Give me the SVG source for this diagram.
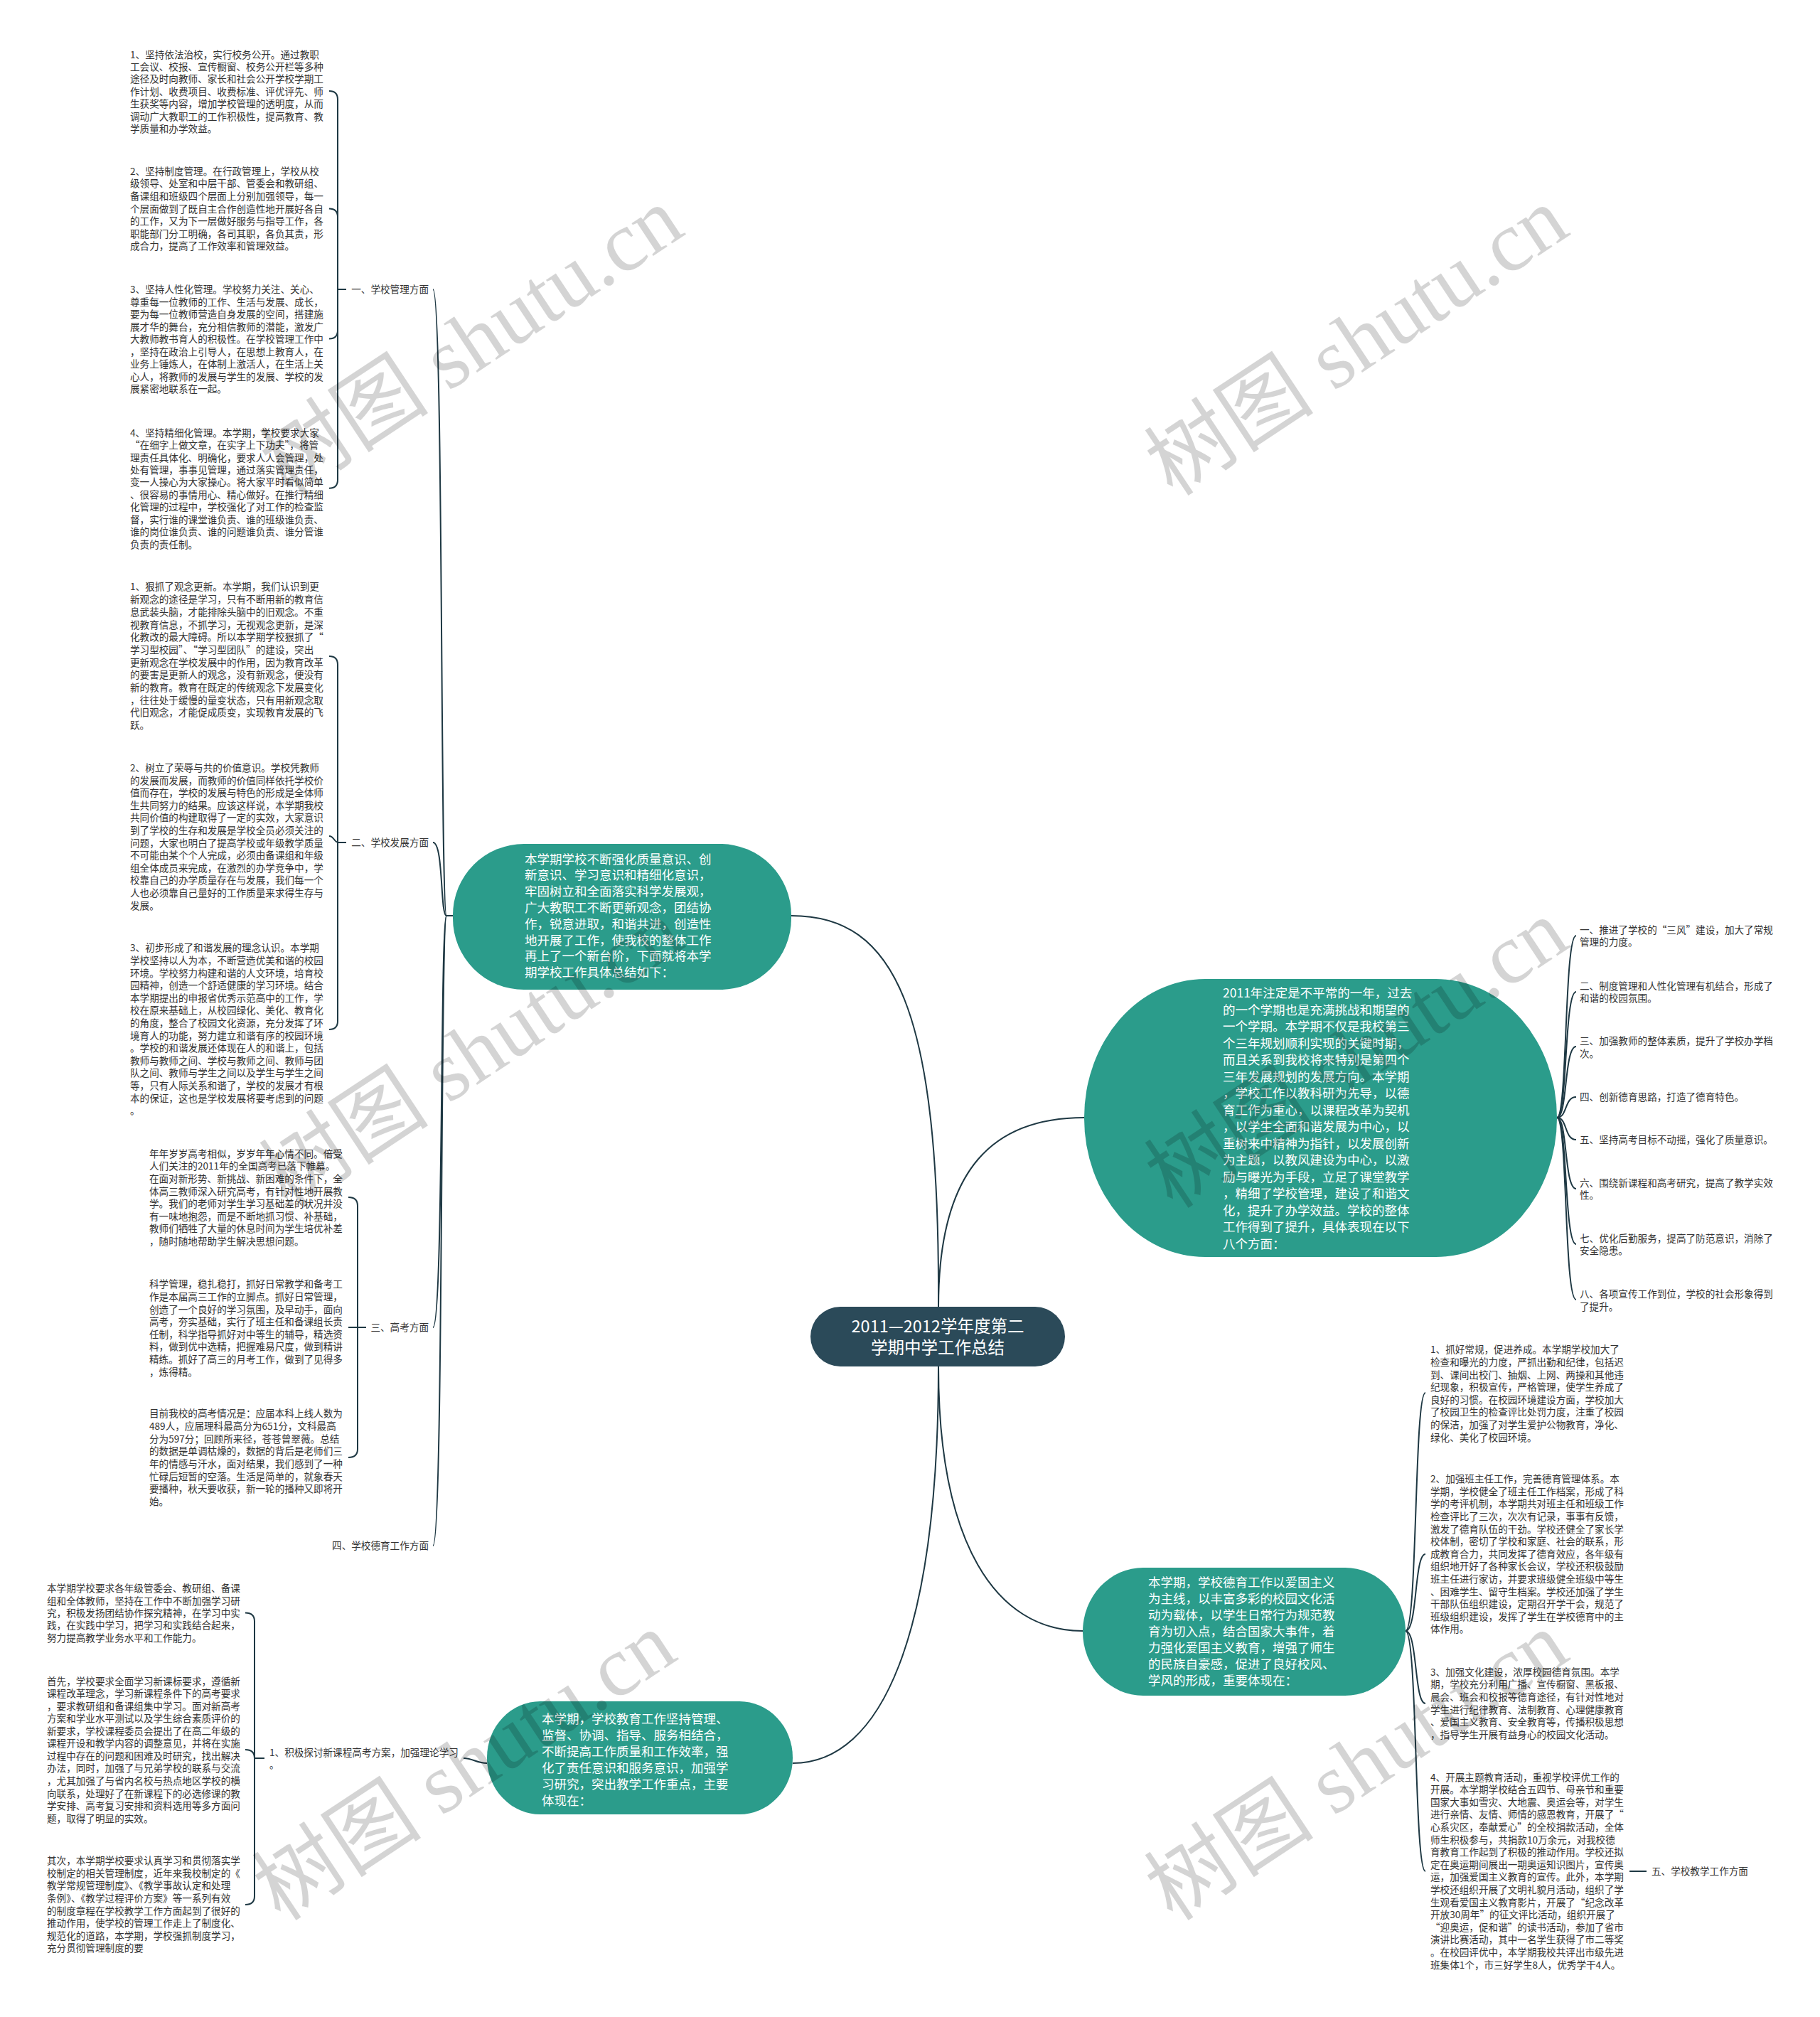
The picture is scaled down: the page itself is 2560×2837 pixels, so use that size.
<svg xmlns="http://www.w3.org/2000/svg" width="2560" height="2837" viewBox="0 0 2560 2837">
<style>
text{font-family:"Noto Sans CJK SC","Noto Sans",sans-serif}
.t{font-size:13.6px;fill:#333}
.le{font-size:13.6px;fill:#333;text-anchor:end}
.n{font-size:17.5px;fill:#fff}
.rt{font-size:23.5px;fill:#fff;text-anchor:middle}
.c{fill:none;stroke:#1e3843;stroke-width:2}
.node{fill:#2b9c8b}
.root{fill:#2b4a59}
.wm{font-family:"Liberation Serif","Noto Sans CJK SC",serif;font-size:120px;fill:#000;fill-opacity:0.17}
</style>
<rect width="2560" height="2837" fill="#fff"/>
<g id="connectors">
<path class="c" d="M1320 1838 C1322 1420 1260 1288 1113 1288"/>
<path class="c" d="M1320 1838 C1320 1640 1400 1572 1525 1572"/>
<path class="c" d="M1320 1922 C1320 2170 1400 2294 1523 2294"/>
<path class="c" d="M1320 1922 C1320 2300 1240 2480 1115 2480"/>
<path class="c" d="M637 1288 H628 C619 1288 624 407 609 407"/>
<path class="c" d="M637 1288 H628 C619 1288 624 1185 609 1185"/>
<path class="c" d="M637 1288 H628 C619 1288 624 1867 609 1867"/>
<path class="c" d="M637 1288 H628 C619 1288 624 2174 609 2174"/>
<path class="c" d="M487 407 H475 V140 Q475 128 463 128"/>
<path class="c" d="M487 407 H475 V305.5 Q475 293.5 463 293.5"/>
<path class="c" d="M487 407 H475 V464.6 Q475 476.6 463 476.6"/>
<path class="c" d="M487 407 H475 V674.8 Q475 686.8 463 686.8"/>
<path class="c" d="M487 1185 H475 V935 Q475 923 463 923"/>
<path class="c" d="M487 1185 H476 C470 1185 470 1176 463 1176"/>
<path class="c" d="M487 1185 H475 V1436 Q475 1448 463 1448"/>
<path class="c" d="M515 1867 H503 V1696 Q503 1684 490 1684"/>
<path class="c" d="M515 1867 H490"/>
<path class="c" d="M515 1867 H503 V2038 Q503 2050 490 2050"/>
<path class="c" d="M685 2480 C670 2480 665 2473 652 2473"/>
<path class="c" d="M372 2473 H358 V2280.5 Q358 2268.5 345 2268.5"/>
<path class="c" d="M372 2473 H358 Q358 2461 345 2461"/>
<path class="c" d="M372 2473 H358 V2667 Q358 2679 345 2679"/>
<path class="c" d="M2190 1572 C2205 1572 2200 1316 2217 1316"/>
<path class="c" d="M2190 1572 C2205 1572 2200 1395 2217 1395"/>
<path class="c" d="M2190 1572 C2205 1572 2200 1472 2217 1472"/>
<path class="c" d="M2190 1572 C2205 1572 2200 1543 2217 1543"/>
<path class="c" d="M2190 1572 C2205 1572 2200 1603 2217 1603"/>
<path class="c" d="M2190 1572 C2205 1572 2200 1672 2217 1672"/>
<path class="c" d="M2190 1572 C2205 1572 2200 1750 2217 1750"/>
<path class="c" d="M2190 1572 C2205 1572 2200 1828 2217 1828"/>
<path class="c" d="M1977 2294 C1994 2294 1989 1959 2005 1959"/>
<path class="c" d="M1977 2294 C1994 2294 1989 2186 2005 2186"/>
<path class="c" d="M1977 2294 C1994 2294 1989 2396 2005 2396"/>
<path class="c" d="M1977 2294 C1994 2294 1989 2632 2005 2632"/>
<path class="c" d="M2292 2632 H2316"/>
</g>
<g id="root">
<rect class="root" x="1140" y="1838" width="358" height="84" rx="42"/>
<text class="rt" x="1319" y="1874">2011—2012学年度第二</text>
<text class="rt" x="1319" y="1904">学期中学工作总结</text>
</g>
<g id="node-summary">
<rect class="node" x="637" y="1187" width="476" height="205" rx="100"/>
<text class="n" x="738" y="1214.6"><tspan x="738">本学期学校不断强化质量意识、创</tspan><tspan x="738" dy="22.8">新意识、学习意识和精细化意识，</tspan><tspan x="738" dy="22.8">牢固树立和全面落实科学发展观，</tspan><tspan x="738" dy="22.8">广大教职工不断更新观念，团结协</tspan><tspan x="738" dy="22.8">作，锐意进取，和谐共进，创造性</tspan><tspan x="738" dy="22.8">地开展了工作，使我校的整体工作</tspan><tspan x="738" dy="22.8">再上了一个新台阶，下面就将本学</tspan><tspan x="738" dy="22.8">期学校工作具体总结如下：</tspan></text>
</g>
<g id="node-intro">
<rect class="node" x="1525" y="1377" width="665" height="391" rx="170" ry="195"/>
<text class="n" x="1720" y="1403.3"><tspan x="1720">2011年注定是不平常的一年，过去</tspan><tspan x="1720" dy="23.5">的一个学期也是充满挑战和期望的</tspan><tspan x="1720" dy="23.5">一个学期。本学期不仅是我校第三</tspan><tspan x="1720" dy="23.5">个三年规划顺利实现的关键时期，</tspan><tspan x="1720" dy="23.5">而且关系到我校将来特别是第四个</tspan><tspan x="1720" dy="23.5">三年发展规划的发展方向。本学期</tspan><tspan x="1720" dy="23.5">，学校工作以教科研为先导，以德</tspan><tspan x="1720" dy="23.5">育工作为重心，以课程改革为契机</tspan><tspan x="1720" dy="23.5">，以学生全面和谐发展为中心，以</tspan><tspan x="1720" dy="23.5">重树来中精神为指针，以发展创新</tspan><tspan x="1720" dy="23.5">为主题，以教风建设为中心，以激</tspan><tspan x="1720" dy="23.5">励与曝光为手段，立足了课堂教学</tspan><tspan x="1720" dy="23.5">，精细了学校管理，建设了和谐文</tspan><tspan x="1720" dy="23.5">化，提升了办学效益。学校的整体</tspan><tspan x="1720" dy="23.5">工作得到了提升，具体表现在以下</tspan><tspan x="1720" dy="23.5">八个方面：</tspan></text>
</g>
<g id="node-moral">
<rect class="node" x="1523" y="2205" width="454" height="180" rx="85" ry="90"/>
<text class="n" x="1615" y="2231.6"><tspan x="1615">本学期，学校德育工作以爱国主义</tspan><tspan x="1615" dy="23">为主线，以丰富多彩的校园文化活</tspan><tspan x="1615" dy="23">动为载体，以学生日常行为规范教</tspan><tspan x="1615" dy="23">育为切入点，结合国家大事件，着</tspan><tspan x="1615" dy="23">力强化爱国主义教育，增强了师生</tspan><tspan x="1615" dy="23">的民族自豪感，促进了良好校风、</tspan><tspan x="1615" dy="23">学风的形成，重要体现在：</tspan></text>
</g>
<g id="node-teaching">
<rect class="node" x="685" y="2393" width="430" height="159" rx="75" ry="79"/>
<text class="n" x="762" y="2423.6"><tspan x="762">本学期，学校教育工作坚持管理、</tspan><tspan x="762" dy="23">监督、协调、指导、服务相结合，</tspan><tspan x="762" dy="23">不断提高工作质量和工作效率，强</tspan><tspan x="762" dy="23">化了责任意识和服务意识，加强学</tspan><tspan x="762" dy="23">习研究，突出教学工作重点，主要</tspan><tspan x="762" dy="23">体现在：</tspan></text>
</g>
<g id="label-1"><text class="le" x="603" y="412">一、学校管理方面</text></g>
<g id="label-2"><text class="le" x="603" y="1190">二、学校发展方面</text></g>
<g id="label-3"><text class="le" x="603" y="1872">三、高考方面</text></g>
<g id="label-4"><text class="le" x="603" y="2179">四、学校德育工作方面</text></g>
<g id="label-5"><text class="t" x="2323" y="2636.7">五、学校教学工作方面</text></g>
<g id="label-study"><text class="t" x="379" y="2469.6"><tspan x="379">1、积极探讨新课程高考方案，加强理论学习</tspan><tspan x="379" dy="17.6">。</tspan></text></g>
<g id="m1">
<text class="t" y="81.5"><tspan x="183">1、坚持依法治校，实行校务公开。通过教职</tspan><tspan x="183" dy="17.4">工会议、校报、宣传橱窗、校务公开栏等多种</tspan><tspan x="183" dy="17.4">途径及时向教师、家长和社会公开学校学期工</tspan><tspan x="183" dy="17.4">作计划、收费项目、收费标准、评优评先、师</tspan><tspan x="183" dy="17.4">生获奖等内容，增加学校管理的透明度，从而</tspan><tspan x="183" dy="17.4">调动广大教职工的工作积极性，提高教育、教</tspan><tspan x="183" dy="17.4">学质量和办学效益。</tspan></text>
</g>
<g id="m2">
<text class="t" y="245.8"><tspan x="183">2、坚持制度管理。在行政管理上，学校从校</tspan><tspan x="183" dy="17.6">级领导、处室和中层干部、管委会和教研组、</tspan><tspan x="183" dy="17.6">备课组和班级四个层面上分别加强领导，每一</tspan><tspan x="183" dy="17.6">个层面做到了既自主合作创造性地开展好各自</tspan><tspan x="183" dy="17.6">的工作，又为下一层做好服务与指导工作，各</tspan><tspan x="183" dy="17.6">职能部门分工明确，各司其职，各负其责，形</tspan><tspan x="183" dy="17.6">成合力，提高了工作效率和管理效益。</tspan></text>
</g>
<g id="m3">
<text class="t" y="412"><tspan x="183">3、坚持人性化管理。学校努力关注、关心、</tspan><tspan x="183" dy="17.5">尊重每一位教师的工作、生活与发展、成长，</tspan><tspan x="183" dy="17.5">要为每一位教师营造自身发展的空间，搭建施</tspan><tspan x="183" dy="17.5">展才华的舞台，充分相信教师的潜能，激发广</tspan><tspan x="183" dy="17.5">大教师教书育人的积极性。在学校管理工作中</tspan><tspan x="183" dy="17.5">，坚持在政治上引导人，在思想上教育人，在</tspan><tspan x="183" dy="17.5">业务上锤炼人，在体制上激活人，在生活上关</tspan><tspan x="183" dy="17.5">心人，将教师的发展与学生的发展、学校的发</tspan><tspan x="183" dy="17.5">展紧密地联系在一起。</tspan></text>
</g>
<g id="m4">
<text class="t" y="613.6"><tspan x="183">4、坚持精细化管理。本学期，学校要求大家</tspan><tspan x="183" dy="17.45">“在细字上做文章，在实字上下功夫”，将管</tspan><tspan x="183" dy="17.45">理责任具体化、明确化，要求人人会管理，处</tspan><tspan x="183" dy="17.45">处有管理，事事见管理，通过落实管理责任，</tspan><tspan x="183" dy="17.45">变一人操心为大家操心。将大家平时看似简单</tspan><tspan x="183" dy="17.45">、很容易的事情用心、精心做好。在推行精细</tspan><tspan x="183" dy="17.45">化管理的过程中，学校强化了对工作的检查监</tspan><tspan x="183" dy="17.45">督，实行谁的课堂谁负责、谁的班级谁负责、</tspan><tspan x="183" dy="17.45">谁的岗位谁负责、谁的问题谁负责、谁分管谁</tspan><tspan x="183" dy="17.45">负责的责任制。</tspan></text>
</g>
<g id="d1">
<text class="t" y="830.4"><tspan x="183">1、狠抓了观念更新。本学期，我们认识到更</tspan><tspan x="183" dy="17.7">新观念的途径是学习，只有不断用新的教育信</tspan><tspan x="183" dy="17.7">息武装头脑，才能排除头脑中的旧观念。不重</tspan><tspan x="183" dy="17.7">视教育信息，不抓学习，无视观念更新，是深</tspan><tspan x="183" dy="17.7">化教改的最大障碍。所以本学期学校狠抓了“</tspan><tspan x="183" dy="17.7">学习型校园”、“学习型团队”的建设，突出</tspan><tspan x="183" dy="17.7">更新观念在学校发展中的作用，因为教育改革</tspan><tspan x="183" dy="17.7">的要害是更新人的观念，没有新观念，便没有</tspan><tspan x="183" dy="17.7">新的教育。教育在既定的传统观念下发展变化</tspan><tspan x="183" dy="17.7">，往往处于缓慢的量变状态，只有用新观念取</tspan><tspan x="183" dy="17.7">代旧观念，才能促成质变，实现教育发展的飞</tspan><tspan x="183" dy="17.7">跃。</tspan></text>
</g>
<g id="d2">
<text class="t" y="1084.9"><tspan x="183">2、树立了荣辱与共的价值意识。学校凭教师</tspan><tspan x="183" dy="17.6">的发展而发展，而教师的价值同样依托学校价</tspan><tspan x="183" dy="17.6">值而存在，学校的发展与特色的形成是全体师</tspan><tspan x="183" dy="17.6">生共同努力的结果。应该这样说，本学期我校</tspan><tspan x="183" dy="17.6">共同价值的构建取得了一定的实效，大家意识</tspan><tspan x="183" dy="17.6">到了学校的生存和发展是学校全员必须关注的</tspan><tspan x="183" dy="17.6">问题，大家也明白了提高学校或年级教学质量</tspan><tspan x="183" dy="17.6">不可能由某个个人完成，必须由备课组和年级</tspan><tspan x="183" dy="17.6">组全体成员来完成，在激烈的办学竞争中，学</tspan><tspan x="183" dy="17.6">校靠自己的办学质量存在与发展，我们每一个</tspan><tspan x="183" dy="17.6">人也必须靠自己量好的工作质量来求得生存与</tspan><tspan x="183" dy="17.6">发展。</tspan></text>
</g>
<g id="d3">
<text class="t" y="1338.4"><tspan x="183">3、初步形成了和谐发展的理念认识。本学期</tspan><tspan x="183" dy="17.6">学校坚持以人为本，不断营造优美和谐的校园</tspan><tspan x="183" dy="17.6">环境。学校努力构建和谐的人文环境，培育校</tspan><tspan x="183" dy="17.6">园精神，创造一个舒适健康的学习环境。结合</tspan><tspan x="183" dy="17.6">本学期提出的申报省优秀示范高中的工作，学</tspan><tspan x="183" dy="17.6">校在原来基础上，从校园绿化、美化、教育化</tspan><tspan x="183" dy="17.6">的角度，整合了校园文化资源，充分发挥了环</tspan><tspan x="183" dy="17.6">境育人的功能，努力建立和谐有序的校园环境</tspan><tspan x="183" dy="17.6">。学校的和谐发展还体现在人的和谐上，包括</tspan><tspan x="183" dy="17.6">教师与教师之间、学校与教师之间、教师与团</tspan><tspan x="183" dy="17.6">队之间、教师与学生之间以及学生与学生之间</tspan><tspan x="183" dy="17.6">等，只有人际关系和谐了，学校的发展才有根</tspan><tspan x="183" dy="17.6">本的保证，这也是学校发展将要考虑到的问题</tspan><tspan x="183" dy="17.6">。</tspan></text>
</g>
<g id="g1">
<text class="t" y="1627.7"><tspan x="210">年年岁岁高考相似，岁岁年年心情不同。倍受</tspan><tspan x="210" dy="17.6">人们关注的2011年的全国高考已落下帷幕。</tspan><tspan x="210" dy="17.6">在面对新形势、新挑战、新困难的条件下，全</tspan><tspan x="210" dy="17.6">体高三教师深入研究高考，有针对性地开展教</tspan><tspan x="210" dy="17.6">学。我们的老师对学生学习基础差的状况并没</tspan><tspan x="210" dy="17.6">有一味地抱怨，而是不断地抓习惯、补基础，</tspan><tspan x="210" dy="17.6">教师们牺牲了大量的休息时间为学生培优补差</tspan><tspan x="210" dy="17.6">，随时随地帮助学生解决思想问题。</tspan></text>
</g>
<g id="g2">
<text class="t" y="1811.4"><tspan x="210">科学管理，稳扎稳打，抓好日常教学和备考工</tspan><tspan x="210" dy="17.6">作是本届高三工作的立脚点。抓好日常管理，</tspan><tspan x="210" dy="17.6">创造了一个良好的学习氛围，及早动手，面向</tspan><tspan x="210" dy="17.6">高考，夯实基础，实行了班主任和备课组长责</tspan><tspan x="210" dy="17.6">任制，科学指导抓好对中等生的辅导，精选资</tspan><tspan x="210" dy="17.6">料，做到优中选精，把握难易尺度，做到精讲</tspan><tspan x="210" dy="17.6">精练。抓好了高三的月考工作，做到了见得多</tspan><tspan x="210" dy="17.6">，炼得精。</tspan></text>
</g>
<g id="g3">
<text class="t" y="1993.2"><tspan x="210">目前我校的高考情况是：应届本科上线人数为</tspan><tspan x="210" dy="17.7">489人，应届理科最高分为651分，文科最高</tspan><tspan x="210" dy="17.7">分为597分；回顾所来径，苍苍曾翠薇。总结</tspan><tspan x="210" dy="17.7">的数据是单调枯燥的，数据的背后是老师们三</tspan><tspan x="210" dy="17.7">年的情感与汗水，面对结果，我们感到了一种</tspan><tspan x="210" dy="17.7">忙碌后短暂的空落。生活是简单的，就象春天</tspan><tspan x="210" dy="17.7">要播种，秋天要收获，新一轮的播种又即将开</tspan><tspan x="210" dy="17.7">始。</tspan></text>
</g>
<g id="s1">
<text class="t" y="2239.1"><tspan x="66">本学期学校要求各年级管委会、教研组、备课</tspan><tspan x="66" dy="17.4">组和全体教师，坚持在工作中不断加强学习研</tspan><tspan x="66" dy="17.4">究，积极发扬团结协作探究精神，在学习中实</tspan><tspan x="66" dy="17.4">践，在实践中学习，把学习和实践结合起来，</tspan><tspan x="66" dy="17.4">努力提高教学业务水平和工作能力。</tspan></text>
</g>
<g id="s2">
<text class="t" y="2369.6"><tspan x="66">首先，学校要求全面学习新课标要求，遵循新</tspan><tspan x="66" dy="17.55">课程改革理念，学习新课程条件下的高考要求</tspan><tspan x="66" dy="17.55">，要求教研组和备课组集中学习。面对新高考</tspan><tspan x="66" dy="17.55">方案和学业水平测试以及学生综合素质评价的</tspan><tspan x="66" dy="17.55">新要求，学校课程委员会提出了在高二年级的</tspan><tspan x="66" dy="17.55">课程开设和教学内容的调整意见，并将在实施</tspan><tspan x="66" dy="17.55">过程中存在的问题和困难及时研究，找出解决</tspan><tspan x="66" dy="17.55">办法，同时，加强了与兄弟学校的联系与交流</tspan><tspan x="66" dy="17.55">，尤其加强了与省内名校与热点地区学校的横</tspan><tspan x="66" dy="17.55">向联系，处理好了在新课程下的必选修课的教</tspan><tspan x="66" dy="17.55">学安排、高考复习安排和资料选用等多方面问</tspan><tspan x="66" dy="17.55">题，取得了明显的实效。</tspan></text>
</g>
<g id="s3">
<text class="t" y="2622.2"><tspan x="66">其次，本学期学校要求认真学习和贯彻落实学</tspan><tspan x="66" dy="17.6">校制定的相关管理制度，近年来我校制定的《</tspan><tspan x="66" dy="17.6">教学常规管理制度》、《教学事故认定和处理</tspan><tspan x="66" dy="17.6">条例》、《教学过程评价方案》等一系列有效</tspan><tspan x="66" dy="17.6">的制度章程在学校教学工作方面起到了很好的</tspan><tspan x="66" dy="17.6">推动作用，使学校的管理工作走上了制度化、</tspan><tspan x="66" dy="17.6">规范化的道路，本学期，学校强抓制度学习，</tspan><tspan x="66" dy="17.6">充分贯彻管理制度的要</tspan></text>
</g>
<g id="p1"><text class="t" y="1312.9"><tspan x="2222">一、推进了学校的“三风”建设，加大了常规</tspan><tspan x="2222" dy="17.4">管理的力度。</tspan></text></g>
<g id="p2"><text class="t" y="1391.7"><tspan x="2222">二、制度管理和人性化管理有机结合，形成了</tspan><tspan x="2222" dy="17.4">和谐的校园氛围。</tspan></text></g>
<g id="p3"><text class="t" y="1469.1"><tspan x="2222">三、加强教师的整体素质，提升了学校办学档</tspan><tspan x="2222" dy="17.4">次。</tspan></text></g>
<g id="p4"><text class="t" x="2222" y="1547.9">四、创新德育思路，打造了德育特色。</text></g>
<g id="p5"><text class="t" x="2222" y="1608.2">五、坚持高考目标不动摇，强化了质量意识。</text></g>
<g id="p6"><text class="t" y="1668.8"><tspan x="2222">六、围绕新课程和高考研究，提高了教学实效</tspan><tspan x="2222" dy="17.4">性。</tspan></text></g>
<g id="p7"><text class="t" y="1746.5"><tspan x="2222">七、优化后勤服务，提高了防范意识，消除了</tspan><tspan x="2222" dy="17.4">安全隐患。</tspan></text></g>
<g id="p8"><text class="t" y="1825.3"><tspan x="2222">八、各项宣传工作到位，学校的社会形象得到</tspan><tspan x="2222" dy="17.4">了提升。</tspan></text></g>
<g id="e1">
<text class="t" y="1903.4"><tspan x="2012">1、抓好常规，促进养成。本学期学校加大了</tspan><tspan x="2012" dy="17.6">检查和曝光的力度，严抓出勤和纪律，包括迟</tspan><tspan x="2012" dy="17.6">到、课间出校门、抽烟、上网、两操和其他违</tspan><tspan x="2012" dy="17.6">纪现象，积极宣传，严格管理，使学生养成了</tspan><tspan x="2012" dy="17.6">良好的习惯。在校园环境建设方面，学校加大</tspan><tspan x="2012" dy="17.6">了校园卫生的检查评比处罚力度，注重了校园</tspan><tspan x="2012" dy="17.6">的保洁，加强了对学生爱护公物教育，净化、</tspan><tspan x="2012" dy="17.6">绿化、美化了校园环境。</tspan></text>
</g>
<g id="e2">
<text class="t" y="2085.2"><tspan x="2012">2、加强班主任工作，完善德育管理体系。本</tspan><tspan x="2012" dy="17.6">学期，学校健全了班主任工作档案，形成了科</tspan><tspan x="2012" dy="17.6">学的考评机制，本学期共对班主任和班级工作</tspan><tspan x="2012" dy="17.6">检查评比了三次，次次有记录，事事有反馈，</tspan><tspan x="2012" dy="17.6">激发了德育队伍的干劲。学校还健全了家长学</tspan><tspan x="2012" dy="17.6">校体制，密切了学校和家庭、社会的联系，形</tspan><tspan x="2012" dy="17.6">成教育合力，共同发挥了德育效应，各年级有</tspan><tspan x="2012" dy="17.6">组织地开好了各种家长会议，学校还积极鼓励</tspan><tspan x="2012" dy="17.6">班主任进行家访，并要求班级健全班级中等生</tspan><tspan x="2012" dy="17.6">、困难学生、留守生档案。学校还加强了学生</tspan><tspan x="2012" dy="17.6">干部队伍组织建设，定期召开学干会，规范了</tspan><tspan x="2012" dy="17.6">班级组织建设，发挥了学生在学校德育中的主</tspan><tspan x="2012" dy="17.6">体作用。</tspan></text>
</g>
<g id="e3">
<text class="t" y="2356.7"><tspan x="2012">3、加强文化建设，浓厚校园德育氛围。本学</tspan><tspan x="2012" dy="17.6">期，学校充分利用广播、宣传橱窗、黑板报、</tspan><tspan x="2012" dy="17.6">晨会、班会和校报等德育途径，有针对性地对</tspan><tspan x="2012" dy="17.6">学生进行纪律教育、法制教育、心理健康教育</tspan><tspan x="2012" dy="17.6">、爱国主义教育、安全教育等，传播积极思想</tspan><tspan x="2012" dy="17.6">，指导学生开展有益身心的校园文化活动。</tspan></text>
</g>
<g id="e4">
<text class="t" y="2504.6"><tspan x="2012">4、开展主题教育活动，重视学校评优工作的</tspan><tspan x="2012" dy="17.6">开展。本学期学校结合五四节、母亲节和重要</tspan><tspan x="2012" dy="17.6">国家大事如雪灾、大地震、奥运会等，对学生</tspan><tspan x="2012" dy="17.6">进行亲情、友情、师情的感恩教育，开展了“</tspan><tspan x="2012" dy="17.6">心系灾区，奉献爱心”的全校捐款活动，全体</tspan><tspan x="2012" dy="17.6">师生积极参与，共捐款10万余元，对我校德</tspan><tspan x="2012" dy="17.6">育教育工作起到了积极的推动作用。学校还拟</tspan><tspan x="2012" dy="17.6">定在奥运期间展出一期奥运知识图片，宣传奥</tspan><tspan x="2012" dy="17.6">运，加强爱国主义教育的宣传。此外，本学期</tspan><tspan x="2012" dy="17.6">学校还组织开展了文明礼貌月活动，组织了学</tspan><tspan x="2012" dy="17.6">生观看爱国主义教育影片，开展了“纪念改革</tspan><tspan x="2012" dy="17.6">开放30周年”的征文评比活动，组织开展了</tspan><tspan x="2012" dy="17.6">“迎奥运，促和谐”的读书活动，参加了省市</tspan><tspan x="2012" dy="17.6">演讲比赛活动，其中一名学生获得了市二等奖</tspan><tspan x="2012" dy="17.6">。在校园评优中，本学期我校共评出市级先进</tspan><tspan x="2012" dy="17.6">班集体1个，市三好学生8人，优秀学干4人。</tspan></text>
</g>
<g id="watermarks">
<text class="wm" transform="translate(405,700) rotate(-33.5)">树图 shutu.cn</text>
<text class="wm" transform="translate(1650,700) rotate(-33.5)">树图 shutu.cn</text>
<text class="wm" transform="translate(405,1702) rotate(-33.5)">树图 shutu.cn</text>
<text class="wm" transform="translate(1650,1702) rotate(-33.5)">树图 shutu.cn</text>
<text class="wm" transform="translate(395,2704) rotate(-33.5)">树图 shutu.cn</text>
<text class="wm" transform="translate(1650,2704) rotate(-33.5)">树图 shutu.cn</text>
</g>
</svg>
